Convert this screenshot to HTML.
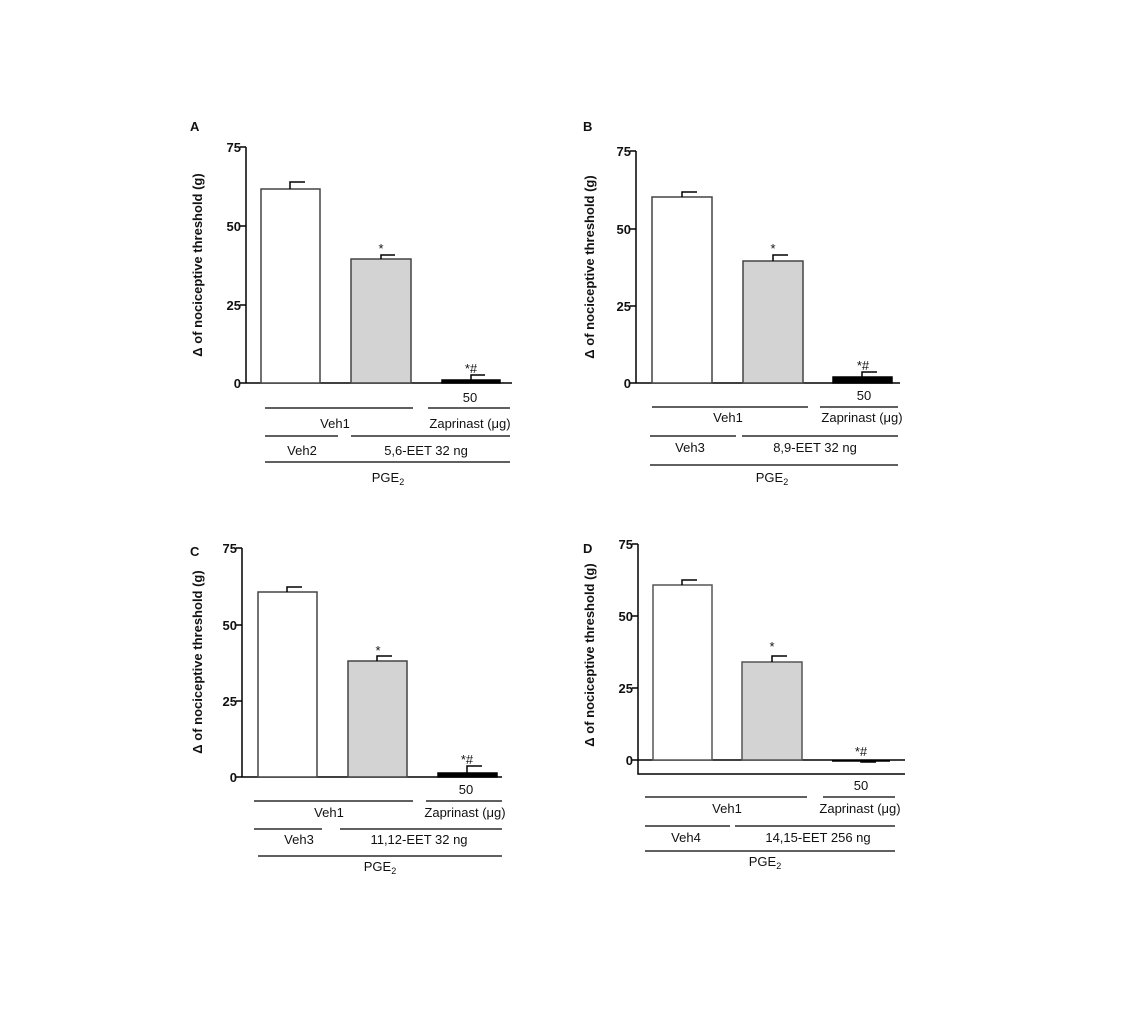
<!DOCTYPE html>
<html><head><meta charset="utf-8"><style>body{margin:0;background:#fff}svg{display:block}text{font-family:"Liberation Sans",Arial,sans-serif;font-size:13px;fill:#111}.b{font-weight:bold}</style></head><body>
<svg width="1129" height="1029" viewBox="0 0 1129 1029" xmlns="http://www.w3.org/2000/svg">
<g stroke="#000" stroke-width="1.5" fill="none">
<!-- A -->
<path d="M246 147V383M240 147H246M240 226H246M240 305H246M240 383H512"/>
<rect x="261" y="189" width="59" height="194" fill="#fff" stroke="#444"/>
<rect x="351" y="259" width="60" height="124" fill="#d3d3d3" stroke="#444"/>
<rect x="442" y="380" width="58" height="3" fill="#000"/>
<path d="M290 189V182H305M381 259V255H395M471 380V375H485"/>
<path d="M265 408H413M428 408H510M265 436H338M351 436H510M265 462H510" stroke-width="1.2"/>
<!-- B -->
<path d="M636 151V383M630 151H636M630 229H636M630 306H636M630 383H900"/>
<rect x="652" y="197" width="60" height="186" fill="#fff" stroke="#444"/>
<rect x="743" y="261" width="60" height="122" fill="#d3d3d3" stroke="#444"/>
<rect x="833" y="377" width="59" height="6" fill="#000"/>
<path d="M682 197V192H697M773 261V255H788M862 377V372H877"/>
<path d="M652 407H808M820 407H898M650 436H736M742 436H898M650 465H898" stroke-width="1.2"/>
<!-- C -->
<path d="M242 548V777M236 548H242M236 625H242M236 701H242M236 777H502"/>
<rect x="258" y="592" width="59" height="185" fill="#fff" stroke="#444"/>
<rect x="348" y="661" width="59" height="116" fill="#d3d3d3" stroke="#444"/>
<rect x="438" y="773" width="59" height="4" fill="#000"/>
<path d="M287 592V587H302M377 661V656H392M467 773V766H482"/>
<path d="M254 801H413M426 801H502M254 829H322M340 829H502M258 856H502" stroke-width="1.2"/>
<!-- D -->
<path d="M638 544V774H905M632 544H638M632 616H638M632 688H638M632 760H905"/>
<rect x="653" y="585" width="59" height="175" fill="#fff" stroke="#555"/>
<rect x="742" y="662" width="60" height="98" fill="#d3d3d3" stroke="#555"/>
<path d="M832 761H890M861 761V762H876"/>
<path d="M682 585V580H697M772 662V656H787"/>
<path d="M645 797H807M823 797H895M645 826H730M735 826H895M645 851H895" stroke-width="1.2"/>
</g>
<!-- text A -->
<text x="190" y="131" class="b">A</text>
<g class="b" text-anchor="end"><text x="241" y="152">75</text><text x="241" y="231">50</text><text x="241" y="310">25</text><text x="241" y="388">0</text></g>
<text class="b" transform="translate(202,265) rotate(-90)" text-anchor="middle">Δ of nociceptive threshold (g)</text>
<g text-anchor="middle"><text x="381" y="253">*</text><text x="471" y="373">*#</text><text x="470" y="402">50</text><text x="335" y="428">Veh1</text><text x="470" y="428">Zaprinast (μg)</text><text x="302" y="455">Veh2</text><text x="426" y="455">5,6-EET 32 ng</text><text x="388" y="482">PGE<tspan font-size="9" dy="3">2</tspan></text></g>
<!-- text B -->
<text x="583" y="131" class="b">B</text>
<g class="b" text-anchor="end"><text x="631" y="156">75</text><text x="631" y="234">50</text><text x="631" y="311">25</text><text x="631" y="388">0</text></g>
<text class="b" transform="translate(594,267) rotate(-90)" text-anchor="middle">Δ of nociceptive threshold (g)</text>
<g text-anchor="middle"><text x="773" y="253">*</text><text x="863" y="370">*#</text><text x="864" y="400">50</text><text x="728" y="422">Veh1</text><text x="862" y="422">Zaprinast (μg)</text><text x="690" y="452">Veh3</text><text x="815" y="452">8,9-EET 32 ng</text><text x="772" y="482">PGE<tspan font-size="9" dy="3">2</tspan></text></g>
<!-- text C -->
<text x="190" y="556" class="b">C</text>
<g class="b" text-anchor="end"><text x="237" y="553">75</text><text x="237" y="630">50</text><text x="237" y="706">25</text><text x="237" y="782">0</text></g>
<text class="b" transform="translate(202,662) rotate(-90)" text-anchor="middle">Δ of nociceptive threshold (g)</text>
<g text-anchor="middle"><text x="378" y="655">*</text><text x="467" y="764">*#</text><text x="466" y="794">50</text><text x="329" y="817">Veh1</text><text x="465" y="817">Zaprinast (μg)</text><text x="299" y="844">Veh3</text><text x="419" y="844">11,12-EET 32 ng</text><text x="380" y="871">PGE<tspan font-size="9" dy="3">2</tspan></text></g>
<!-- text D -->
<text x="583" y="553" class="b">D</text>
<g class="b" text-anchor="end"><text x="633" y="549">75</text><text x="633" y="621">50</text><text x="633" y="693">25</text><text x="633" y="765">0</text></g>
<text class="b" transform="translate(594,655) rotate(-90)" text-anchor="middle">Δ of nociceptive threshold (g)</text>
<g text-anchor="middle"><text x="772" y="651">*</text><text x="861" y="756">*#</text><text x="861" y="790">50</text><text x="727" y="813">Veh1</text><text x="860" y="813">Zaprinast (μg)</text><text x="686" y="842">Veh4</text><text x="818" y="842">14,15-EET 256 ng</text><text x="765" y="866">PGE<tspan font-size="9" dy="3">2</tspan></text></g>
</svg>
</body></html>
